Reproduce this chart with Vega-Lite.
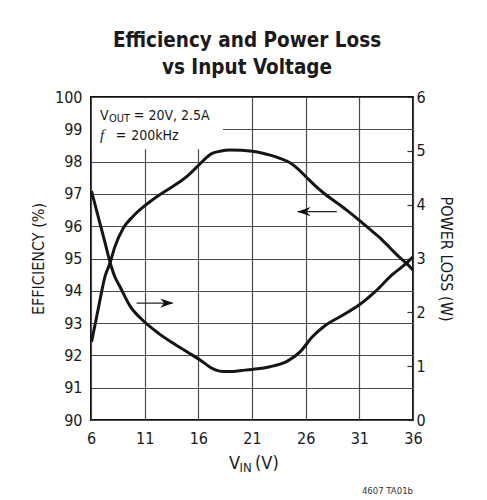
{
  "$schema": "https://vega.github.io/schema/vega-lite/v6.json",
  "autosize": {"type": "none"},
  "width": 322,
  "height": 323,
  "padding": {"left": 91, "top": 97, "right": 74, "bottom": 80},
  "background": "white",
  "title": {
    "text": ["Efficiency and Power Loss", "vs Input Voltage"],
    "fontSize": 20.5,
    "fontWeight": "bold",
    "lineHeight": 27,
    "anchor": "middle",
    "dx": -5,
    "offset": 11,
    "color": "#1a1a1a"
  },
  "config": {
    "font": "DejaVu Sans Condensed, DejaVu Sans, sans-serif",
    "view": {"stroke": "#111", "strokeWidth": 2},
    "axis": {
      "labelColor": "#1a1a1a",
      "titleColor": "#1a1a1a",
      "labelFontSize": 16,
      "titleFontSize": 16,
      "titleFontWeight": "normal",
      "gridColor": "#4a4a4a",
      "gridWidth": 1.2,
      "domain": false,
      "ticks": false
    }
  },
  "layer": [
    {
      "data": {"values": [{"v1": 6.1, "v2": 18.3, "e1": 98.38, "e2": 99.96}]},
      "mark": {"type": "rect", "fill": "white"},
      "encoding": {
        "x": {"field": "v1", "type": "quantitative", "scale": {"domain": [6, 36], "nice": false, "zero": false},
          "axis": {"values": [6, 11, 16, 21, 26, 31, 36], "grid": true, "title": null, "labelPadding": 10, "labelFlush": false}},
        "x2": {"field": "v2"},
        "y": {"field": "e1", "type": "quantitative", "scale": {"domain": [90, 100], "nice": false, "zero": false},
          "axis": {"values": [90, 91, 92, 93, 94, 95, 96, 97, 98, 99, 100], "grid": true, "title": "EFFICIENCY (%)", "labelPadding": 9, "titlePadding": 8, "labelFlush": false}},
        "y2": {"field": "e2"}
      }
    },
    {
      "data": {"values": [
        {"vin": 6.05, "eff": 92.42}, {"vin": 6.5, "eff": 93.15}, {"vin": 6.84, "eff": 93.72},
        {"vin": 7.3, "eff": 94.44}, {"vin": 7.76, "eff": 94.85}, {"vin": 8.22, "eff": 95.36},
        {"vin": 8.99, "eff": 95.93}, {"vin": 9.9, "eff": 96.3}, {"vin": 11, "eff": 96.63},
        {"vin": 12.3, "eff": 96.95}, {"vin": 13.62, "eff": 97.23}, {"vin": 15, "eff": 97.56},
        {"vin": 16, "eff": 97.88}, {"vin": 16.6, "eff": 98.08}, {"vin": 17.2, "eff": 98.24},
        {"vin": 18, "eff": 98.32}, {"vin": 19, "eff": 98.36}, {"vin": 20, "eff": 98.35},
        {"vin": 21, "eff": 98.32}, {"vin": 22, "eff": 98.26}, {"vin": 22.7, "eff": 98.2},
        {"vin": 23.6, "eff": 98.1}, {"vin": 24.46, "eff": 97.98}, {"vin": 25.2, "eff": 97.8},
        {"vin": 26, "eff": 97.54}, {"vin": 26.9, "eff": 97.25}, {"vin": 27.85, "eff": 96.98},
        {"vin": 29.1, "eff": 96.68}, {"vin": 30, "eff": 96.45}, {"vin": 31, "eff": 96.18},
        {"vin": 32, "eff": 95.9}, {"vin": 32.85, "eff": 95.66}, {"vin": 33.8, "eff": 95.35},
        {"vin": 34.7, "eff": 95.05}, {"vin": 35.4, "eff": 94.85}, {"vin": 36, "eff": 94.64}
      ]},
      "mark": {"type": "line", "color": "#151515", "strokeWidth": 3, "interpolate": "monotone"},
      "encoding": {
        "x": {"field": "vin", "type": "quantitative"},
        "y": {"field": "eff", "type": "quantitative", "scale": {"domain": [90, 100], "nice": false, "zero": false}, "axis": null}
      }
    },
    {
      "data": {"values": [
        {"vin": 6.05, "loss": 4.25}, {"vin": 6.84, "loss": 3.65}, {"vin": 7.3, "loss": 3.3},
        {"vin": 7.76, "loss": 2.94}, {"vin": 8.22, "loss": 2.66}, {"vin": 8.69, "loss": 2.48},
        {"vin": 9.6, "loss": 2.13}, {"vin": 11, "loss": 1.82}, {"vin": 12.3, "loss": 1.61},
        {"vin": 13.62, "loss": 1.43}, {"vin": 15, "loss": 1.26}, {"vin": 16.2, "loss": 1.11},
        {"vin": 17.1, "loss": 0.98}, {"vin": 17.6, "loss": 0.93}, {"vin": 18.3, "loss": 0.9},
        {"vin": 19, "loss": 0.9}, {"vin": 20, "loss": 0.92}, {"vin": 21, "loss": 0.94},
        {"vin": 22.7, "loss": 0.99}, {"vin": 24.26, "loss": 1.09}, {"vin": 25.5, "loss": 1.27},
        {"vin": 26.6, "loss": 1.54}, {"vin": 27.85, "loss": 1.76}, {"vin": 29.4, "loss": 1.94},
        {"vin": 31, "loss": 2.14}, {"vin": 32.5, "loss": 2.39}, {"vin": 34.07, "loss": 2.7},
        {"vin": 35.2, "loss": 2.88}, {"vin": 36, "loss": 3.03}
      ]},
      "mark": {"type": "line", "color": "#151515", "strokeWidth": 3, "interpolate": "monotone"},
      "encoding": {
        "x": {"field": "vin", "type": "quantitative"},
        "y": {"field": "loss", "type": "quantitative", "scale": {"domain": [0, 6], "nice": false},
          "axis": {"orient": "right", "values": [0, 1, 2, 3, 4, 5, 6], "grid": false, "ticks": true, "tickSize": -6, "tickColor": "#333", "tickWidth": 1.2,
            "labelPadding": 9, "labelFlush": false, "title": "POWER LOSS (W)", "titleAngle": 90, "titlePadding": 12}}
      }
    },
    {
      "data": {"values": [{"v1": 25.23, "v2": 28.9, "e": 96.45}, {"v1": 10.25, "v2": 13.6, "e": 93.62}]},
      "mark": {"type": "rule", "color": "#222", "strokeWidth": 1.3},
      "encoding": {
        "x": {"field": "v1", "type": "quantitative"},
        "x2": {"field": "v2"},
        "y": {"field": "e", "type": "quantitative", "scale": {"domain": [90, 100], "nice": false, "zero": false}, "axis": null}
      }
    },
    {
      "data": {"values": [{"v": 25.23, "e": 96.45, "dir": "left"}, {"v": 13.67, "e": 93.62, "dir": "right"}]},
      "mark": {"type": "point", "filled": true, "size": 170, "color": "#111", "opacity": 1},
      "encoding": {
        "x": {"field": "v", "type": "quantitative"},
        "y": {"field": "e", "type": "quantitative", "scale": {"domain": [90, 100], "nice": false, "zero": false}, "axis": null},
        "shape": {"field": "dir", "type": "nominal", "legend": null,
          "scale": {"domain": ["left", "right"], "range": ["M 0 0 L 2 -0.7 L 1.4 0 L 2 0.7 Z", "M 0 0 L -2 -0.7 L -1.4 0 L -2 0.7 Z"]}}
      }
    },
    {
      "data": {"values": [
        {"v": 6.84, "e": 99.28, "t": "V"},
        {"v": 9.99, "e": 99.28, "t": "= 20V, 2.5A"},
        {"v": 8.3, "e": 98.68, "t": "="},
        {"v": 9.75, "e": 98.68, "t": "200kHz"}
      ]},
      "mark": {"type": "text", "align": "left", "baseline": "alphabetic", "fontSize": 14, "color": "#1a1a1a"},
      "encoding": {
        "x": {"field": "v", "type": "quantitative"},
        "y": {"field": "e", "type": "quantitative", "scale": {"domain": [90, 100], "nice": false, "zero": false}, "axis": null},
        "text": {"field": "t"}
      }
    },
    {
      "data": {"values": [{"v": 7.68, "e": 99.22, "t": "OUT"}]},
      "mark": {"type": "text", "align": "left", "baseline": "alphabetic", "fontSize": 11, "color": "#1a1a1a"},
      "encoding": {
        "x": {"field": "v", "type": "quantitative"},
        "y": {"field": "e", "type": "quantitative", "scale": {"domain": [90, 100], "nice": false, "zero": false}, "axis": null},
        "text": {"field": "t"}
      }
    },
    {
      "data": {"values": [{"v": 6.84, "e": 98.68, "t": "f"}]},
      "mark": {"type": "text", "align": "left", "baseline": "alphabetic", "fontSize": 15, "fontStyle": "italic", "font": "Liberation Serif, DejaVu Serif, serif", "color": "#1a1a1a"},
      "encoding": {
        "x": {"field": "v", "type": "quantitative"},
        "y": {"field": "e", "type": "quantitative", "scale": {"domain": [90, 100], "nice": false, "zero": false}, "axis": null},
        "text": {"field": "t"}
      }
    },
    {
      "data": {"values": [{"v": 18.86, "e": 88.49, "t": "V"}, {"v": 21.28, "e": 88.49, "t": "(V)"}]},
      "mark": {"type": "text", "align": "left", "baseline": "alphabetic", "fontSize": 18, "color": "#1a1a1a"},
      "encoding": {
        "x": {"field": "v", "type": "quantitative"},
        "y": {"field": "e", "type": "quantitative", "scale": {"domain": [90, 100], "nice": false, "zero": false}, "axis": null},
        "text": {"field": "t"}
      }
    },
    {
      "data": {"values": [{"v": 19.84, "e": 88.4, "t": "IN"}]},
      "mark": {"type": "text", "align": "left", "baseline": "alphabetic", "fontSize": 13, "color": "#1a1a1a"},
      "encoding": {
        "x": {"field": "v", "type": "quantitative"},
        "y": {"field": "e", "type": "quantitative", "scale": {"domain": [90, 100], "nice": false, "zero": false}, "axis": null},
        "text": {"field": "t"}
      }
    },
    {
      "data": {"values": [{"v": 36, "e": 87.72, "t": "4607 TA01b"}]},
      "mark": {"type": "text", "align": "right", "baseline": "alphabetic", "fontSize": 9.5, "color": "#333"},
      "encoding": {
        "x": {"field": "v", "type": "quantitative"},
        "y": {"field": "e", "type": "quantitative", "scale": {"domain": [90, 100], "nice": false, "zero": false}, "axis": null},
        "text": {"field": "t"}
      }
    }
  ],
  "resolve": {"scale": {"y": "independent", "shape": "independent"}}
}
